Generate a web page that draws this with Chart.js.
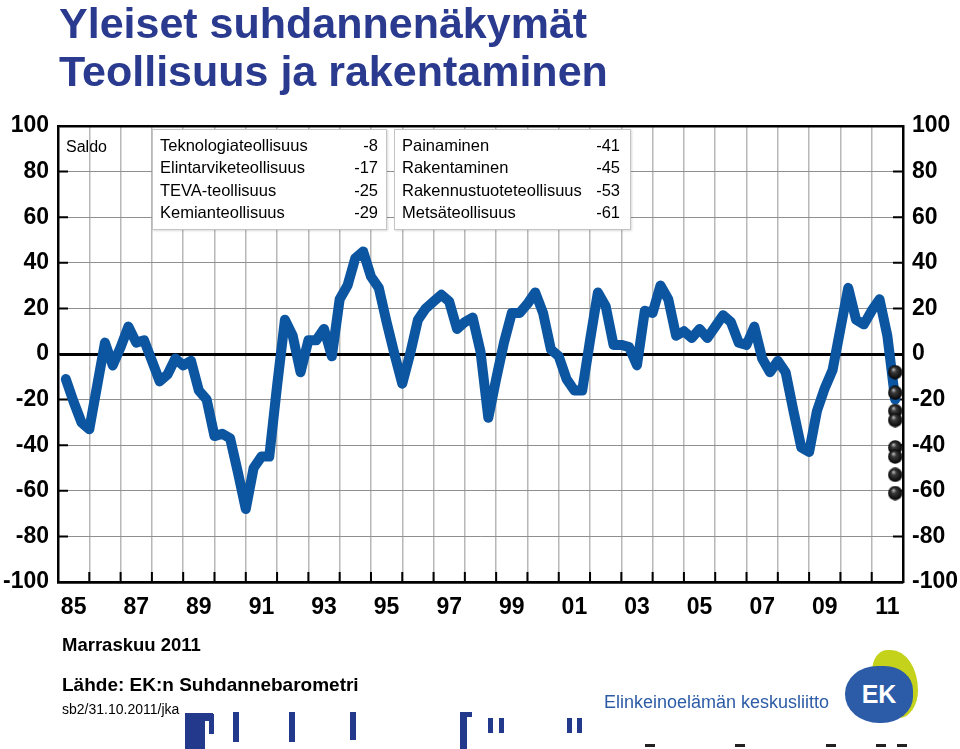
<!DOCTYPE html>
<html lang="fi">
<head>
<meta charset="utf-8">
<title>Yleiset suhdannenäkymät</title>
<script src="https://cdn.jsdelivr.net/npm/chart.js@4.4.0/dist/chart.umd.min.js"></script>
<style>
  html, body { margin: 0; padding: 0; background: #fff; }
  body { width: 960px; height: 749px; position: relative; overflow: hidden; font-family: "Liberation Sans", Arial, sans-serif; }
  #chart { position: absolute; left: 0; top: 0; }
  .title { position: absolute; left: 59px; font-weight: bold; font-size: 43px; line-height: 1; color: #2a3a8e; white-space: nowrap; }
  .box { position: absolute; top: 129px; height: 101px; background: #fff; border: 1px solid #c4c4c4; box-shadow: 1px 1px 2px rgba(0,0,0,0.15); font-size: 16.5px; padding-top: 4px; box-sizing: border-box; }
  .row { display: flex; justify-content: space-between; height: 22.4px; line-height: 22.4px; white-space: nowrap; }
  .saldo { position: absolute; left: 66px; top: 138px; font-size: 16px; }
  .note { position: absolute; left: 62px; white-space: nowrap; line-height: 1; color: #000; }
  .frag { position: absolute; background: #22398c; }
  .dash { position: absolute; top: 744px; height: 3px; width: 10px; background: #222; }
</style>
</head>
<body>
<canvas id="chart" width="960" height="749"></canvas>

<div class="title" style="top:2px">Yleiset suhdannenäkymät</div>
<div class="title" style="top:50px">Teollisuus ja rakentaminen</div>

<div class="saldo">Saldo</div>
<div class="box" id="boxA" style="left:152px; width:235px; padding-left:7px; padding-right:8px"></div>
<div class="box" id="boxB" style="left:394px; width:237px; padding-left:7px; padding-right:10px"></div>

<div class="note" style="top:636px; font-size:18.5px; font-weight:bold">Marraskuu 2011</div>
<div class="note" style="top:675px; font-size:19px; font-weight:bold">Lähde: EK:n Suhdannebarometri</div>
<div class="note" style="top:702px; font-size:14px">sb2/31.10.2011/jka</div>

<div style="position:absolute; left:604px; top:693px; font-size:18px; color:#2d5ca6; white-space:nowrap; line-height:1">Elinkeinoelämän keskusliitto</div>
<div style="position:absolute; left:872px; top:650px; width:46px; height:68px; background:#c5d21c; border-radius:35% 65% 45% 55%"></div>
<div style="position:absolute; left:845px; top:666px; width:68px; height:57px; background:#2c5ca8; border-radius:48% 42% 46% 50%; color:#fff; font-weight:bold; font-size:25px; text-align:center; line-height:57px">EK</div>

<div class="frag" style="left:185px; top:716px; width:20px; height:33px"></div>
<div class="frag" style="left:185px; top:713px; width:28px; height:8px"></div>
<div class="frag" style="left:209px; top:714px; width:5px; height:20px"></div>
<div class="frag" style="left:233px; top:712px; width:6px; height:30px"></div>
<div class="frag" style="left:289px; top:712px; width:6px; height:30px"></div>
<div class="frag" style="left:350px; top:712px; width:6px; height:28px"></div>
<div class="frag" style="left:460px; top:714px; width:7px; height:35px"></div>
<div class="frag" style="left:460px; top:712px; width:12px; height:5px"></div>
<div class="frag" style="left:488px; top:718px; width:5px; height:15px"></div>
<div class="frag" style="left:499px; top:718px; width:5px; height:15px"></div>
<div class="frag" style="left:567px; top:718px; width:5px; height:15px"></div>
<div class="frag" style="left:577px; top:718px; width:5px; height:15px"></div>
<div class="dash" style="left:645px"></div>
<div class="dash" style="left:735px"></div>
<div class="dash" style="left:826px"></div>
<div class="dash" style="left:876px"></div>
<div class="dash" style="left:897px"></div>

<script>
// quarterly saldo, first point April 1985, last point October 2011
const firstQuarter = 1985.25;
const saldo = [
  -11, -21, -30,        // 1985
  -33, -14, 5, -5,      // 1986
  3, 12, 5, 6,          // 1987
  -3, -12, -9, -2,      // 1988
  -5, -3, -16, -20,     // 1989
  -36, -35, -37, -52,   // 1990
  -68, -50, -45, -45,   // 1991
  -14, 15, 8, -8,       // 1992
  6, 6, 11, -1,         // 1993
  24, 30, 42, 45,       // 1994
  34, 29, 14, 0,        // 1995
  -13, 0, 15, 20,       // 1996
  23, 26, 23, 11,       // 1997
  14, 16, 1, -28,       // 1998
  -11, 5, 18, 18,       // 1999
  22, 27, 18, 2,        // 2000
  -1, -11, -16, -16,    // 2001
  6, 27, 21, 4,         // 2002
  4, 3, -5, 19,         // 2003
  18, 30, 24, 8,        // 2004
  10, 7, 11, 7,         // 2005
  12, 17, 14, 5,        // 2006
  4, 12, -2, -8,        // 2007
  -3, -8, -25, -41,     // 2008
  -43, -25, -15, -7,    // 2009
  11, 29, 15, 13,       // 2010
  19, 24, 8, -20        // 2011
];

// latest values by sector (legend + black dots)
const sectors = ['Teknologiateollisuus', 'Elintarviketeollisuus', 'TEVA-teollisuus', 'Kemianteollisuus',
                 'Painaminen', 'Rakentaminen', 'Rakennustuoteteollisuus', 'Metsäteollisuus'];
const sectorSaldo = [-8, -17, -25, -29, -41, -45, -53, -61];

const yearLabels = ['85', '87', '89', '91', '93', '95', '97', '99', '01', '03', '05', '07', '09', '11'];
const firstYear = 1985, lastYear = 2012;

// legend boxes
function fillBox(id, from, to) {
  const box = document.getElementById(id);
  for (let i = from; i < to; i++) {
    const row = document.createElement('div');
    row.className = 'row';
    row.innerHTML = '<span>' + sectors[i] + '</span><span>' + sectorSaldo[i] + '</span>';
    box.appendChild(row);
  }
}
fillBox('boxA', 0, 4);
fillBox('boxB', 4, 8);

const points = saldo.map((v, i) => ({ x: firstQuarter + i * 0.25, y: v }));
const lastX = points[points.length - 1].x;

// shaded black ball for the sector dots
function ball(d) {
  const c = document.createElement('canvas');
  c.width = c.height = d;
  const g = c.getContext('2d');
  const r = d / 2;
  const grad = g.createRadialGradient(r * 0.75, r * 0.6, r * 0.05, r, r, r);
  grad.addColorStop(0, '#b8b8b8');
  grad.addColorStop(0.3, '#3a3a3a');
  grad.addColorStop(1, '#000');
  g.fillStyle = grad;
  g.beginPath();
  g.arc(r, r, r - 0.3, 0, Math.PI * 2);
  g.fill();
  return c;
}

// small tick marks pointing into the plot
const innerTicks = {
  id: 'innerTicks',
  beforeDatasetsDraw(chart) {
    const { ctx, chartArea: a, scales } = chart;
    ctx.save();
    ctx.strokeStyle = '#000';
    ctx.lineWidth = 2;
    ctx.beginPath();
    scales.y.ticks.forEach(t => {
      const py = scales.y.getPixelForValue(t.value);
      ctx.moveTo(a.left, py); ctx.lineTo(a.left + 10, py);
      ctx.moveTo(a.right - 10, py); ctx.lineTo(a.right, py);
    });
    scales.x.ticks.forEach(t => {
      const px = scales.x.getPixelForValue(t.value);
      ctx.moveTo(px, a.bottom); ctx.lineTo(px, a.bottom - 10);
    });
    ctx.stroke();
    ctx.restore();
  }
};

const font = { family: '"Liberation Sans", Arial, sans-serif', size: 23, weight: 'bold' };
const edge = v => v === 100 || v === -100;

new Chart(document.getElementById('chart'), {
  type: 'line',
  data: {
    datasets: [
      {
        data: sectorSaldo.map(v => ({ x: lastX, y: v })),
        showLine: false,
        pointStyle: ball(15),
        pointRadius: 7,
        order: 0
      },
      {
        data: points,
        borderColor: '#0b55a1',
        borderWidth: 10,
        borderJoinStyle: 'round',
        borderCapStyle: 'round',
        pointRadius: 0,
        tension: 0,
        fill: false,
        order: 1
      }
    ]
  },
  options: {
    responsive: false,
    devicePixelRatio: 1,
    animation: false,
    layout: { padding: { top: 126, left: 0, right: 0, bottom: 0 } },
    plugins: { legend: { display: false }, tooltip: { enabled: false } },
    scales: {
      x: {
        type: 'linear', min: firstYear, max: lastYear, position: 'bottom', weight: 0,
        afterBuildTicks: s => {
          const t = [];
          for (let yr = firstYear; yr <= lastYear; yr++) t.push({ value: yr });
          s.ticks = t;
        },
        ticks: { display: false },
        grid: {
          drawTicks: false,
          lineWidth: 1.5,
          color: c => (c.tick && (c.tick.value === firstYear || c.tick.value === lastYear)) ? 'rgba(0,0,0,0)' : '#b8b8b8'
        },
        border: { color: '#000', width: 2.5 },
        afterFit: s => { s.height = 0; }
      },
      xl: {
        type: 'linear', min: firstYear, max: lastYear, position: 'bottom', weight: 1,
        afterBuildTicks: s => { s.ticks = yearLabels.map((l, i) => ({ value: firstYear + 0.5 + 2 * i })); },
        ticks: { callback: (v, i) => yearLabels[i], font: font, color: '#000', padding: 12, autoSkip: false, maxRotation: 0 },
        grid: { display: false, drawTicks: false },
        border: { display: false },
        afterFit: s => { s.height = 167; }
      },
      y: {
        min: -100, max: 100, position: 'left',
        ticks: { stepSize: 20, font: font, color: '#000', padding: 9 },
        grid: {
          drawTicks: false,
          color: c => (c.tick.value === 0 || edge(c.tick.value)) ? '#000' : '#8f8f8f',
          lineWidth: c => c.tick.value === 0 ? 3 : (edge(c.tick.value) ? 2.5 : 1)
        },
        border: { color: '#000', width: 2.5 },
        afterFit: s => { s.width = 58; }
      },
      y2: {
        min: -100, max: 100, position: 'right',
        ticks: { stepSize: 20, font: font, color: '#000', padding: 9 },
        grid: { display: false, drawTicks: false },
        border: { color: '#000', width: 2.5 },
        afterFit: s => { s.width = 57; }
      }
    }
  },
  plugins: [innerTicks]
});
</script>
</body>
</html>
